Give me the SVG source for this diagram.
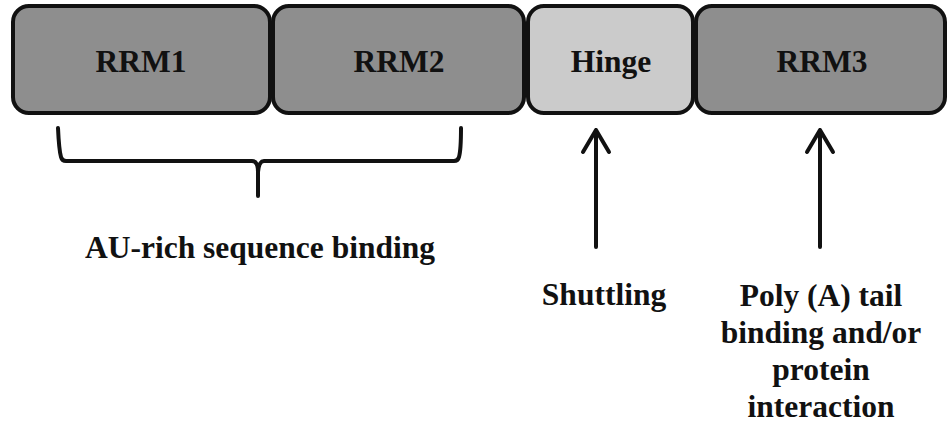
<svg xmlns="http://www.w3.org/2000/svg" width="951" height="429" viewBox="0 0 951 429">
<defs>
<style>
.box{stroke:#111;stroke-width:4}
.dark{fill:#8e8e8e}
.light{fill:#cbcbcb}
.t{font-family:"Liberation Serif","Times New Roman",serif;font-weight:bold;font-size:31.5px;fill:#111;text-anchor:middle}
.ln{fill:none;stroke:#111;stroke-width:4;stroke-linecap:round;stroke-linejoin:round}
</style>
</defs>
<rect width="951" height="429" fill="#fff"/>
<g id="rrm1"><rect class="box dark" x="13" y="6" width="257" height="107" rx="16"/><text class="t" x="141" y="72">RRM1</text></g>
<g id="rrm2"><rect class="box dark" x="273" y="6" width="251" height="107" rx="16"/><text class="t" x="399" y="72">RRM2</text></g>
<g id="hinge"><rect class="box light" x="528" y="6" width="165" height="107" rx="16"/><text class="t" x="611" y="72">Hinge</text></g>
<g id="rrm3"><rect class="box dark" x="696" y="6" width="249" height="107" rx="16"/><text class="t" x="822" y="72">RRM3</text></g>
<g id="connectors">
<path class="ln" stroke-width="3" d="M58 128 Q59 150 61 157 Q62 161 66 161 H252 Q258 161 258 172 V196 M258 172 Q259 161 264 161 H454 Q458 161 459 157 Q461 150 461 128"/>
<path class="ln" d="M596 247 V130 M583 152 L596 130 L609 152"/>
<path class="ln" d="M820 247 V130 M807 152 L820 130 L833 152"/>
</g>
<g id="labels">
<text class="t" x="260" y="258">AU-rich sequence binding</text>
<text class="t" x="604" y="305">Shuttling</text>
<text class="t" x="821" y="306">Poly (A) tail</text>
<text class="t" x="821" y="343">binding and/or</text>
<text class="t" x="821" y="380">protein</text>
<text class="t" x="821" y="417">interaction</text>
</g>
</svg>
